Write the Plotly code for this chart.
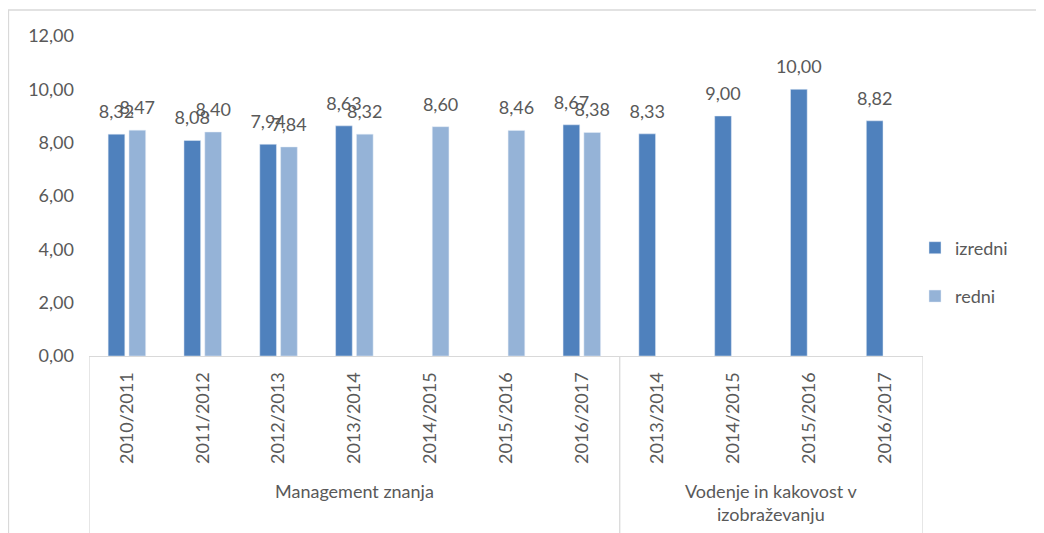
import plotly.graph_objects as go

# Data
groups = ["Management znanja", "Vodenje in kakovost v<br>izobraževanju"]
years = ["2010/2011", "2011/2012", "2012/2013", "2013/2014", "2014/2015", "2015/2016", "2016/2017",
         "2013/2014", "2014/2015", "2015/2016", "2016/2017"]
izredni = [8.32, 8.08, 7.94, 8.63, None, None, 8.67, 8.33, 9.00, 10.00, 8.82]
redni = [8.47, 8.40, 7.84, 8.32, 8.60, 8.46, 8.38, None, None, None, None]
y_ticks = [0, 2, 4, 6, 8, 10, 12]

FONT = "Lato"
GRAY = "#595959"
LINE = "#d9d9d9"
BARGAP = 0.45
OFF = 8  # page body margin

def fmt(v):
    return "" if v is None else f"{v:.2f}".replace(".", ",")

xs = list(range(len(years)))
slot = (1 - BARGAP) / 2

fig = go.Figure()
series = [("izredni", izredni, "#4F81BD", -slot / 2), ("redni", redni, "#95B3D7", slot / 2)]
for name, vals, col, dx in series:
    fig.add_trace(go.Bar(x=xs, y=vals, name=name, marker_color=col, legendgroup=name))
for name, vals, col, dx in series:
    fig.add_trace(go.Scatter(x=[x + dx for x in xs], y=vals, mode="markers+text",
                             text=[fmt(v) for v in vals], textposition="top center",
                             marker=dict(size=17, color="rgba(0,0,0,0)"),
                             textfont=dict(size=18, color=GRAY, family=FONT),
                             showlegend=False, hoverinfo="skip", cliponaxis=False))

W, H = 1044 - OFF, 533 - OFF
L, R, T, B = 89 - OFF, 121, 36 - OFF, 533 - 356
pw, ph = W - L - R, H - T - B

def pxx(x):
    return (x - OFF - L) / pw

def pxy(y):
    return (T + ph - (y - OFF)) / ph

shapes = []
# outer chart border
shapes.append(dict(type="rect", xref="paper", yref="paper", x0=pxx(8.5), x1=pxx(1040),
                   y0=pxy(545), y1=pxy(10), line=dict(color=LINE, width=1.3)))
# category group dividers
for xv in [-0.5, 6.5, 10.5]:
    shapes.append(dict(type="line", xref="x", yref="paper", x0=xv, x1=xv, y0=0, y1=pxy(540),
                       line=dict(color=LINE, width=1.3)))

annotations = []
group_centers = [3, 8.5]
for g, c in zip(groups, group_centers):
    annotations.append(dict(x=c, xref="x", y=pxy(478), yref="paper", text=g, showarrow=False,
                            yanchor="top", font=dict(size=18, color=GRAY, family=FONT)))

fig.update_layout(
    width=W, height=H,
    margin=dict(l=L, r=R, t=T, b=B),
    paper_bgcolor="white", plot_bgcolor="white",
    barmode="group", bargap=BARGAP, bargroupgap=0.2,
    font=dict(family=FONT, color=GRAY),
    showlegend=True,
    legend=dict(x=pxx(915), y=pxy(272), xanchor="left", yanchor="middle",
                font=dict(size=18, color=GRAY, family=FONT), tracegroupgap=22,
                bgcolor="rgba(0,0,0,0)"),
    shapes=shapes, annotations=annotations,
)
fig.update_xaxes(range=[-0.5, 10.5], tickmode="array", tickvals=xs, ticktext=years,
                 tickangle=-90, tickfont=dict(size=18, color=GRAY, family=FONT),
                 showline=True, linecolor=LINE, linewidth=1.3, showgrid=False, zeroline=False,
                 ticks="", ticklabelstandoff=8)
fig.update_yaxes(range=[0, 12], tickmode="array", tickvals=y_ticks, ticktext=[fmt(v) for v in y_ticks],
                 tickfont=dict(size=18, color=GRAY, family=FONT), showgrid=False, zeroline=False,
                 showline=False, ticks="", ticklabelstandoff=14)

fig.write_html("out.html")
